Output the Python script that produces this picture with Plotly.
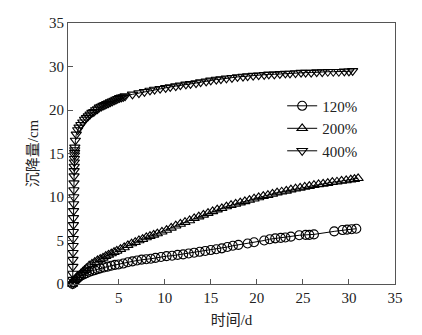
import plotly.graph_objects as go

# settlement (cm) versus time (d) for three loading ratios
t_120 = [0.0, 0.15, 0.3, 0.5, 0.7, 0.9, 1.2, 1.5, 1.8, 2.1, 2.4, 2.7, 3.0, 3.4, 3.8,
         4.2, 4.6, 5.0, 5.5, 6.0, 6.5, 7.0, 7.5, 8.0, 8.5, 9.0, 9.6, 10.2, 10.8, 11.4,
         12.0, 12.6, 13.2, 13.8, 14.4, 15.0, 15.6, 16.2, 16.8, 17.4, 18.0, 19.0, 19.7,
         20.8, 21.4, 22.0, 22.6, 23.1, 23.7, 24.6, 25.3, 25.7, 26.2, 28.4, 29.3, 29.8,
         30.3, 30.8]
s_120 = [0.0, 0.2, 0.4, 0.6, 0.8, 0.95, 1.1, 1.25, 1.4, 1.5, 1.6, 1.7, 1.8, 1.9, 2.0,
         2.1, 2.2, 2.25, 2.35, 2.5, 2.6, 2.7, 2.8, 2.85, 2.9, 3.0, 3.1, 3.2, 3.25, 3.35,
         3.4, 3.5, 3.6, 3.7, 3.8, 3.9, 4.0, 4.1, 4.25, 4.4, 4.5, 4.65, 4.8,
         5.0, 5.15, 5.25, 5.3, 5.35, 5.45, 5.6, 5.65, 5.65, 5.7, 6.05, 6.2, 6.25,
         6.3, 6.35]

t_200 = [0.0, 0.1, 0.2, 0.35, 0.5, 0.7, 0.9, 1.1, 1.3, 1.5, 1.8, 2.1, 2.4, 2.7, 3.0,
         3.3, 3.6, 3.9, 4.2, 4.5, 4.8, 5.2, 5.6, 6.0, 6.4, 6.8, 7.2, 7.6, 8.0, 8.4,
         8.8, 9.2, 9.7, 10.2, 10.7, 11.2, 11.7, 12.2, 12.7, 13.2, 13.7, 14.2, 14.7,
         15.2, 15.7, 16.2, 16.7, 17.2, 17.7, 18.2, 18.7, 19.2, 19.7, 20.2, 20.7, 21.2,
         21.7, 22.2, 22.7, 23.2, 23.7, 24.2, 24.7, 25.2, 25.7, 26.2, 26.7, 27.2, 27.7,
         28.2, 28.7, 29.2, 29.7, 30.2, 30.6, 31.0]
s_200 = [0.0, 0.2, 0.4, 0.6, 0.8, 1.0, 1.2, 1.4, 1.6, 1.8, 2.1, 2.3, 2.5, 2.7, 2.85,
         3.0, 3.2, 3.35, 3.5, 3.65, 3.8, 4.0, 4.2, 4.45, 4.65, 4.8, 5.0, 5.15, 5.35, 5.5,
         5.65, 5.8, 6.0, 6.2, 6.45, 6.7, 6.9, 7.1, 7.3, 7.55, 7.75, 7.95, 8.15,
         8.35, 8.55, 8.7, 8.9, 9.05, 9.2, 9.35, 9.5, 9.65, 9.8, 9.95, 10.1, 10.2,
         10.35, 10.5, 10.6, 10.7, 10.85, 10.95, 11.05, 11.15, 11.25, 11.35, 11.45, 11.5, 11.6,
         11.7, 11.75, 11.85, 11.9, 12.0, 12.05, 12.15]

t_400 = [0.0, 0.01, 0.02, 0.03, 0.04, 0.05, 0.06, 0.07, 0.08, 0.09, 0.1, 0.11, 0.12,
         0.13, 0.14, 0.15, 0.16, 0.17, 0.18, 0.19, 0.2, 0.21, 0.22, 0.23, 0.24,
         0.3, 0.4, 0.55, 0.7, 0.9, 1.1, 1.3, 1.5, 1.7, 1.9, 2.1, 2.3, 2.5, 2.7, 2.9,
         3.1, 3.3, 3.5, 3.7, 3.9, 4.1, 4.3, 4.5, 4.7, 4.9, 5.1, 5.3, 5.5, 5.7,
         6.5, 7.2, 7.8, 8.4, 8.9, 9.5, 10.1, 10.6, 11.2, 11.7, 12.3, 12.8, 13.4, 13.9,
         14.5, 15.0, 15.6, 16.1, 16.7, 17.3, 17.9, 18.5, 19.0, 19.6, 20.2, 20.8, 21.3,
         21.9, 22.5, 23.1, 23.6, 24.2, 24.8, 25.3, 25.9, 26.5, 27.1, 27.7, 28.3, 28.9,
         29.5, 30.0, 30.4]
s_400 = [0.0, 0.5, 1.2, 2.0, 2.8, 3.6, 4.4, 5.2, 6.0, 6.8, 7.6, 8.4, 9.2,
         10.0, 10.8, 11.6, 12.4, 13.0, 13.5, 14.0, 14.4, 14.8, 15.1, 15.4, 15.7,
         16.5, 17.2, 17.7, 18.0, 18.3, 18.6, 18.9, 19.1, 19.3, 19.5, 19.7, 19.8, 20.0, 20.1, 20.3,
         20.4, 20.5, 20.6, 20.7, 20.8, 20.9, 21.0, 21.1, 21.2, 21.3, 21.4, 21.45, 21.5, 21.6,
         21.8, 21.95, 22.1, 22.25, 22.35, 22.45, 22.55, 22.65, 22.75, 22.85, 22.95, 23.0, 23.1, 23.2,
         23.3, 23.4, 23.5, 23.55, 23.65, 23.7, 23.8, 23.85, 23.9, 23.95, 24.0, 24.05, 24.1,
         24.1, 24.15, 24.2, 24.2, 24.25, 24.3, 24.3, 24.3, 24.35, 24.35, 24.4, 24.4, 24.4,
         24.45, 24.45, 24.5]

series_names = ["120%", "200%", "400%"]
series_symbols = ["circle-open", "triangle-up-open", "triangle-down-open"]

x_ticks = [5, 10, 15, 20, 25, 30, 35]
y_tickvals = [0, 5, 10, 15, 20, 25, 30]
y_ticktext = ["0", "5", "10", "15", "20", "30", "35"]

serif = "Liberation Serif"
serif_cjk = "Liberation Serif, Noto Sans CJK SC"
axis_grey = "#555555"
text_col = "#222222"

fig = go.Figure()
for name, sym, t, s in zip(series_names, series_symbols,
                           [t_120, t_200, t_400], [s_120, s_200, s_400]):
    fig.add_trace(go.Scatter(
        x=t, y=s, name=name, mode="lines+markers",
        line=dict(color="black", width=1),
        marker=dict(symbol=sym, size=9, color="black", line=dict(width=1.1, color="black")),
        cliponaxis=False,
    ))

fig.update_layout(
    width=422, height=335,
    margin=dict(l=68, r=27, t=23, b=51),
    paper_bgcolor="white", plot_bgcolor="white",
    font=dict(family=serif, size=15, color=text_col),
    showlegend=True,
    legend=dict(x=0.655, y=0.745, xanchor="left", yanchor="top",
                bgcolor="rgba(0,0,0,0)", itemwidth=30,
                font=dict(family=serif, size=15, color=text_col),
                tracegroupgap=0),
)

fig.update_xaxes(
    range=[-0.5, 35], tickvals=x_ticks, ticks="inside", ticklen=5,
    tickcolor=axis_grey, showline=True, linecolor=axis_grey, linewidth=1,
    mirror=True, showgrid=False, zeroline=False, automargin=False,
    tickfont=dict(family=serif, size=15, color=text_col),
    title=dict(text="时间/d", font=dict(family=serif_cjk, size=15, color=text_col), standoff=9),
)
fig.update_yaxes(
    range=[0, 30], tickvals=y_tickvals, ticktext=y_ticktext, ticks="inside", ticklen=5,
    tickcolor=axis_grey, showline=True, linecolor=axis_grey, linewidth=1,
    mirror=True, showgrid=False, zeroline=False, automargin=False,
    tickfont=dict(family=serif, size=15, color=text_col),
    title=dict(text="沉降量/cm", font=dict(family=serif_cjk, size=15, color=text_col), standoff=6),
)

fig.write_html("out.html")
